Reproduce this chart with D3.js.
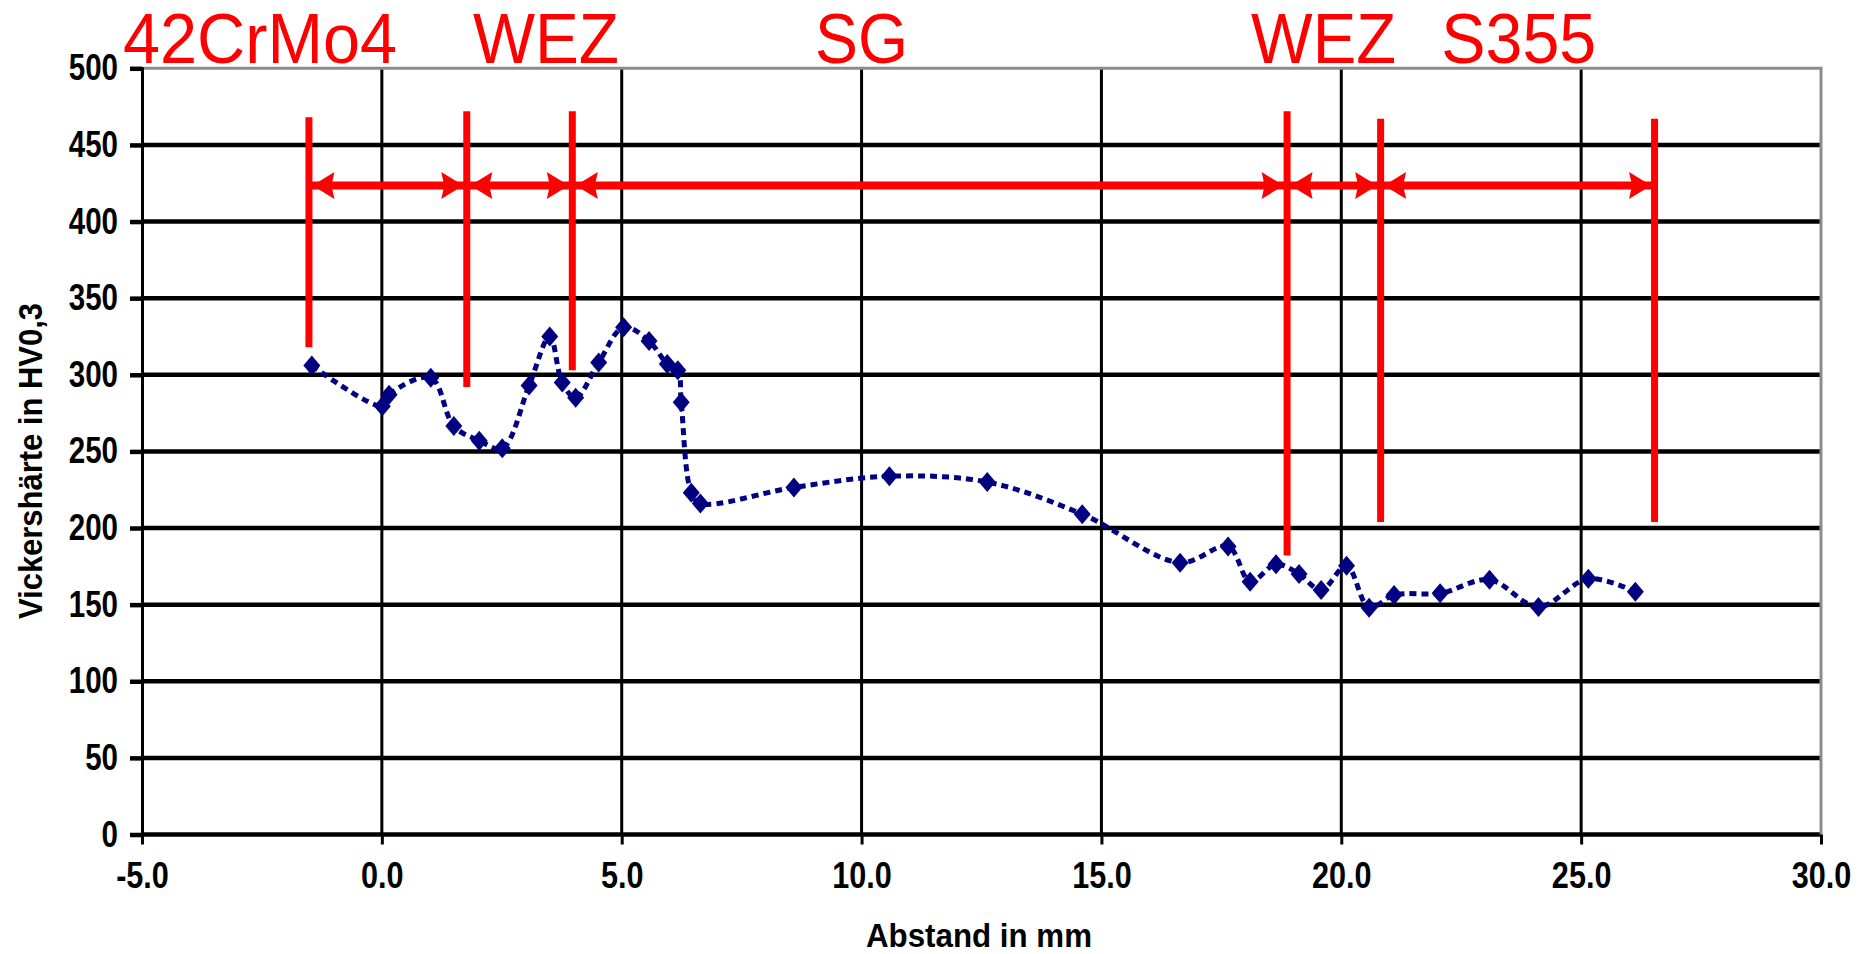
<!DOCTYPE html>
<html>
<head>
<meta charset="utf-8">
<script src="https://cdn.jsdelivr.net/npm/d3@7"></script>
<style>
  html, body { margin: 0; padding: 0; background: #fff; }
  .tick text { font-family: "Liberation Sans", Arial, sans-serif; font-weight: bold; font-size: 36px; fill: #000; }
  .axisTitle { font-family: "Liberation Sans", Arial, sans-serif; font-weight: bold; font-size: 34px; fill: #000; }
  .zoneLabel { font-family: "Liberation Sans", Arial, sans-serif; font-size: 71px; fill: #ff0000; }
</style>
</head>
<body>
<svg id="chart" width="1868" height="954"></svg>
<script>
// measured points: distance in mm / hardness HV0,3
const abstand = [-1.46, 0.01, 0.15, 1.02, 1.5, 2.03, 2.51, 3.07, 3.5, 3.76, 4.04, 4.52, 5.04, 5.57, 5.95, 6.17, 6.24, 6.45, 6.64,
    8.59, 10.58, 12.62, 14.6, 16.64, 17.64, 18.1, 18.64, 19.12, 19.58, 20.11, 20.58, 21.1, 22.06, 23.09, 24.11, 25.15, 26.13];
const haerte = [306, 279.5, 287, 298, 266.5, 257, 252, 293, 325, 295, 285, 308, 331, 322, 307, 303, 282, 223, 216,
    226.5, 233.8, 230, 209, 177.4, 188, 165, 176.4, 170, 159.5, 175.3, 148, 156.3, 157.4, 166.2, 148.5, 166.9, 158.4];

const xTicks = [-5, 0, 5, 10, 15, 20, 25, 30];
const yTicks = [0, 50, 100, 150, 200, 250, 300, 350, 400, 450, 500];

// zone annotation (red)
const zoneNames = ["42CrMo4", "WEZ", "SG", "WEZ", "S355"];
const zoneCenters = [-2.54, 3.42, 10.0, 19.63, 23.7];
const boundaryX = [-1.52, 1.77, 3.97, 18.87, 20.82, 26.53];
const boundaryTop = [468, 472, 472, 472, 467, 467];
const boundaryBottom = [318, 292, 303, 182, 204, 204];
const arrowLevel = 423.5;

const width = 1868, height = 954;
const margin = {top: 68.3, right: 47, bottom: 119.5, left: 142};

const svg = d3.select("#chart");

const x = d3.scaleLinear().domain([-5, 30]).range([margin.left, width - margin.right]);
const y = d3.scaleLinear().domain([0, 500]).range([height - margin.bottom, margin.top]);

// squeeze text horizontally (the original font is a narrow one)
function squeeze(selection, factor) {
    selection.each(function() {
        const len = this.getComputedTextLength();
        d3.select(this).attr("textLength", len * factor).attr("lengthAdjust", "spacingAndGlyphs");
    });
}

//horizontal grid lines (the top one is the grey frame)
svg.append("g")
    .selectAll("line")
    .data(yTicks.filter(d => d < 500))
    .join("line")
    .attr("x1", x(-5))
    .attr("x2", x(30))
    .attr("y1", d => y(d))
    .attr("y2", d => y(d))
    .attr("stroke", "#000")
    .attr("stroke-width", 4.5);

//vertical grid lines
svg.append("g")
    .selectAll("line")
    .data(xTicks.filter(d => d > -5 && d < 30))
    .join("line")
    .attr("x1", d => x(d))
    .attr("x2", d => x(d))
    .attr("y1", y(500))
    .attr("y2", y(0))
    .attr("stroke", "#000")
    .attr("stroke-width", 3);

//grey frame top + right
svg.append("path")
    .attr("d", `M${x(-5)},${y(500)}H${x(30)}V${y(0)}`)
    .attr("fill", "none")
    .attr("stroke", "#8c8c8c")
    .attr("stroke-width", 3);

//left axis
const yAxis = svg.append("g")
    .attr("transform", `translate(${x(-5)},0)`)
    .call(d3.axisLeft(y).tickValues(yTicks).tickSize(12).tickPadding(12).tickFormat(d3.format("d")));
yAxis.select(".domain").attr("stroke", "#000").attr("stroke-width", 3);
yAxis.selectAll(".tick line").attr("stroke", "#000").attr("stroke-width", 4.5);
squeeze(yAxis.selectAll(".tick text"), 0.82);

//bottom axis
const xAxis = svg.append("g")
    .attr("transform", `translate(0,${y(0)})`)
    .call(d3.axisBottom(x).tickValues(xTicks).tickSize(10).tickPadding(18).tickFormat(d3.format(".1f")));
xAxis.select(".domain").remove();
xAxis.selectAll(".tick line").attr("stroke", "#000").attr("stroke-width", 3);
xAxis.selectAll(".tick text").text(d => d3.format(".1f")(d).replace("−", "-"));
squeeze(xAxis.selectAll(".tick text"), 0.85);

//axis titles
svg.append("text")
    .attr("class", "axisTitle")
    .attr("text-anchor", "middle")
    .attr("x", 979)
    .attr("y", 947)
    .attr("textLength", 226)
    .attr("lengthAdjust", "spacingAndGlyphs")
    .text("Abstand in mm");

svg.append("text")
    .attr("class", "axisTitle")
    .attr("text-anchor", "middle")
    .attr("transform", "translate(42,461) rotate(-90)")
    .attr("textLength", 316)
    .attr("lengthAdjust", "spacingAndGlyphs")
    .text("Vickershärte in HV0,3");

//red zone boundaries
const red = "#ff0000";
const zones = svg.append("g");
zones.selectAll("line.boundary")
    .data(boundaryX)
    .join("line")
    .attr("class", "boundary")
    .attr("x1", d => x(d))
    .attr("x2", d => x(d))
    .attr("y1", (d, i) => y(boundaryTop[i]))
    .attr("y2", (d, i) => y(boundaryBottom[i]))
    .attr("stroke", red)
    .attr("stroke-width", 7);

zones.append("line")
    .attr("x1", x(boundaryX[0]))
    .attr("x2", x(boundaryX[boundaryX.length - 1]))
    .attr("y1", y(arrowLevel))
    .attr("y2", y(arrowLevel))
    .attr("stroke", red)
    .attr("stroke-width", 8);

//arrow heads: each segment points to both of its boundaries
const heads = [];
for (let i = 0; i < boundaryX.length - 1; i++) {
    heads.push({pos: boundaryX[i], dir: -1});
    heads.push({pos: boundaryX[i + 1], dir: 1});
}
zones.selectAll("path.head")
    .data(heads)
    .join("path")
    .attr("class", "head")
    .attr("transform", d => `translate(${x(d.pos) - d.dir * 3.5},${y(arrowLevel)}) scale(${d.dir},1)`)
    .attr("d", "M0,0L-22,-13.5L-19,0L-22,13.5Z")
    .attr("fill", red);

const zoneWidths = [274, 146, 93, 145, 155];
zones.selectAll("text")
    .data(zoneNames)
    .join("text")
    .attr("class", "zoneLabel")
    .attr("text-anchor", "middle")
    .attr("x", (d, i) => x(zoneCenters[i]))
    .attr("y", margin.top - 5)
    .attr("textLength", (d, i) => zoneWidths[i])
    .attr("lengthAdjust", "spacingAndGlyphs")
    .text(d => d);

//data line, smoothed like the original
const line = d3.line()
    .x((d, i) => x(abstand[i]))
    .y(d => y(d))
    .curve(d3.curveCatmullRom.alpha(0.5));

svg.append("path")
    .datum(haerte)
    .attr("d", line)
    .attr("fill", "none")
    .attr("stroke", "#000080")
    .attr("stroke-width", 5)
    .attr("stroke-dasharray", "7,5");

svg.append("g")
    .selectAll("path")
    .data(haerte)
    .join("path")
    .attr("transform", (d, i) => `translate(${x(abstand[i])},${y(d)})`)
    .attr("d", "M0,-10L8.5,0L0,10L-8.5,0Z")
    .attr("fill", "#000080");
</script>
</body>
</html>
